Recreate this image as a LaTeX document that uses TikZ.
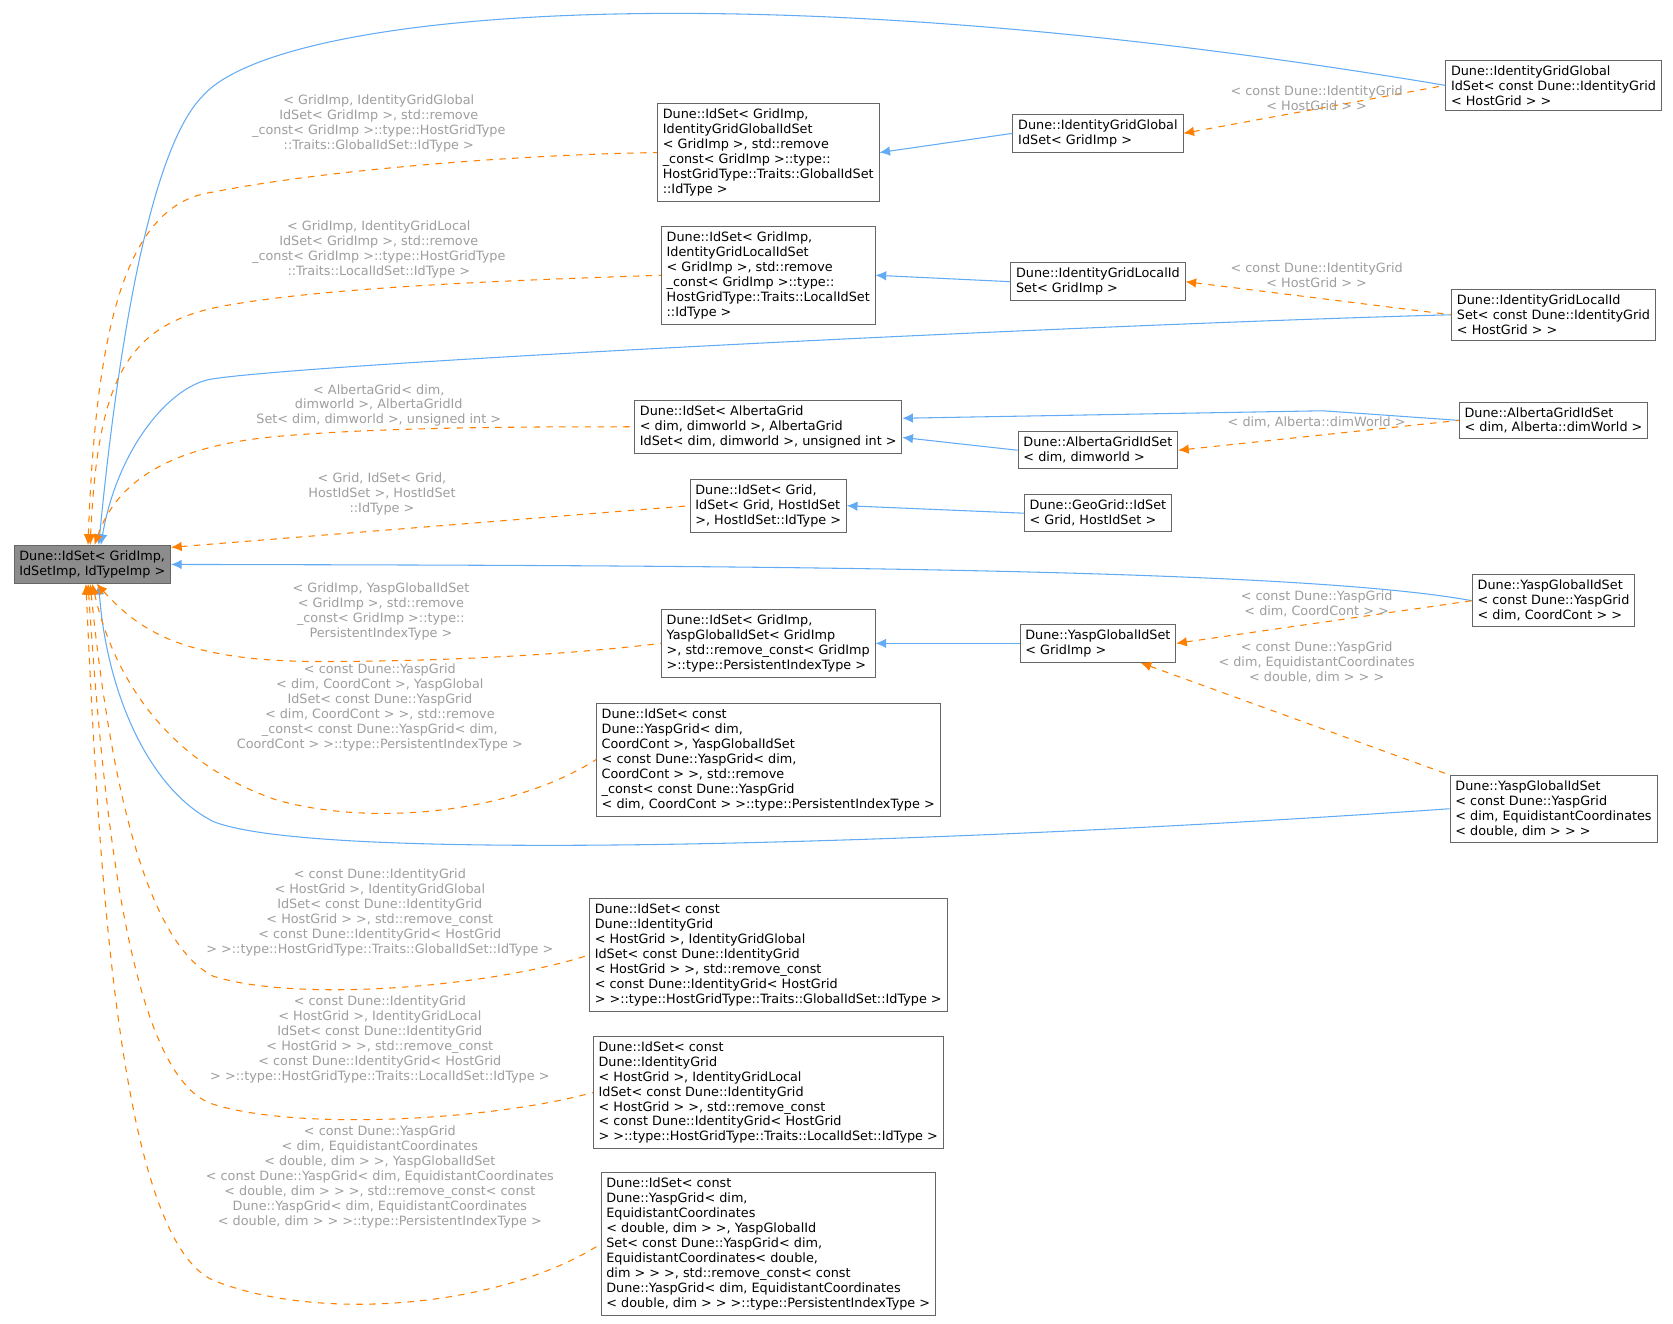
\documentclass[tikz,border=0pt]{standalone}
\usepackage{fontspec}
\setmainfont{DejaVu Sans}
\usetikzlibrary{arrows.meta}
\begin{document}
\begin{tikzpicture}[x=0.5pt,y=-0.5pt,
 box/.style={draw=black!60,fill=white,font=\fontsize{6}{7}\selectfont,align=left,inner sep=2.5pt},
 lab/.style={font=\fontsize{6}{7}\selectfont,text=black!38,align=center},
 inh/.style={draw={rgb,255:red,99;green,172;blue,245},line width=0.5pt,{Latex[length=5pt,width=4.5pt]}-},
 tpl/.style={draw=orange,dashed,line width=0.5pt,{Latex[length=5pt,width=4.5pt]}-}]
\useasboundingbox (0,0) rectangle (1568,1240);
\node[box,fill=black!45] (base) at (86.5,529) {Dune::IdSet< GridImp,\\ IdSetImp, IdTypeImp >};
\node[box] (n1) at (720,143) {Dune::IdSet< GridImp,\\ IdentityGridGlobalIdSet\\< GridImp >, std::remove\\\_const< GridImp >::type::\\HostGridType::Traits::GlobalIdSet\\::IdType >};
\node[box] (n2) at (720,258) {Dune::IdSet< GridImp,\\ IdentityGridLocalIdSet\\< GridImp >, std::remove\\\_const< GridImp >::type::\\HostGridType::Traits::LocalIdSet\\::IdType >};
\node[box] (n3) at (720,400) {Dune::IdSet< AlbertaGrid\\< dim, dimworld >, AlbertaGrid\\IdSet< dim, dimworld >, unsigned int >};
\node[box] (n4) at (720,474) {Dune::IdSet< Grid,\\ IdSet< Grid, HostIdSet\\>, HostIdSet::IdType >};
\node[box] (n5) at (720,603) {Dune::IdSet< GridImp,\\ YaspGlobalIdSet< GridImp\\>, std::remove\_const< GridImp\\>::type::PersistentIndexType >};
\node[box] (n6) at (720,712) {Dune::IdSet< const\\ Dune::YaspGrid< dim,\\ CoordCont >, YaspGlobalIdSet\\< const Dune::YaspGrid< dim,\\ CoordCont > >, std::remove\\\_const< const Dune::YaspGrid\\< dim, CoordCont > >::type::PersistentIndexType >};
\node[box] (n7) at (720,895) {Dune::IdSet< const\\ Dune::IdentityGrid\\< HostGrid >, IdentityGridGlobal\\IdSet< const Dune::IdentityGrid\\< HostGrid > >, std::remove\_const\\< const Dune::IdentityGrid< HostGrid\\ > >::type::HostGridType::Traits::GlobalIdSet::IdType >};
\node[box] (n8) at (720,1024) {Dune::IdSet< const\\ Dune::IdentityGrid\\< HostGrid >, IdentityGridLocal\\IdSet< const Dune::IdentityGrid\\< HostGrid > >, std::remove\_const\\< const Dune::IdentityGrid< HostGrid\\ > >::type::HostGridType::Traits::LocalIdSet::IdType >};
\node[box] (n9) at (720,1166) {Dune::IdSet< const\\ Dune::YaspGrid< dim,\\ EquidistantCoordinates\\< double, dim > >, YaspGlobalId\\Set< const Dune::YaspGrid< dim,\\ EquidistantCoordinates< double,\\ dim > > >, std::remove\_const< const\\ Dune::YaspGrid< dim, EquidistantCoordinates\\< double, dim > > >::type::PersistentIndexType >};
\node[box] (m1) at (1029,125) {Dune::IdentityGridGlobal\\IdSet< GridImp >};
\node[box] (m2) at (1029,264) {Dune::IdentityGridLocalId\\Set< GridImp >};
\node[box] (m3) at (1029,422) {Dune::AlbertaGridIdSet\\< dim, dimworld >};
\node[box] (m4) at (1029,481) {Dune::GeoGrid::IdSet\\< Grid, HostIdSet >};
\node[box] (m5) at (1029,603) {Dune::YaspGlobalIdSet\\< GridImp >};
\node[box] (r1) at (1456,80) {Dune::IdentityGridGlobal\\IdSet< const Dune::IdentityGrid\\< HostGrid > >};
\node[box] (r2) at (1456,295) {Dune::IdentityGridLocalId\\Set< const Dune::IdentityGrid\\< HostGrid > >};
\node[box] (r3) at (1456,394) {Dune::AlbertaGridIdSet\\< dim, Alberta::dimWorld >};
\node[box] (r4) at (1456,563) {Dune::YaspGlobalIdSet\\< const Dune::YaspGrid\\< dim, CoordCont > >};
\node[box] (r5) at (1456,758) {Dune::YaspGlobalIdSet\\< const Dune::YaspGrid\\< dim, EquidistantCoordinates\\< double, dim > > >};
% inheritance
\draw[inh] (n1.east) -- (m1.west);
\draw[inh] (n2.east) -- (m2.west);
\draw[inh] (n3.east) ++(0,-8) -- (1240,385) -- (r3.west);
\draw[inh] (n3.east) ++(0,10) -- (m3.west);
\draw[inh] (n4.east) -- (m4.west);
\draw[inh] (n5.east) -- (m5.west);
\draw[inh] (base.north)++(6,0) .. controls (110,330) and (140,140) .. (190,90) .. controls (260,10) and (700,-30) .. (r1.west);
\draw[inh] (base.north)++(8,0) .. controls (110,420) and (160,360) .. (200,355) .. controls (300,340) and (1000,305) .. (r2.west);
\draw[inh] (base.east)++(0,0) .. controls (600,530) and (1200,530) .. (r4.west);
\draw[inh] (base.south)++(6,0) .. controls (100,650) and (140,740) .. (200,770) .. controls (300,810) and (900,790) .. (r5.west);
% template
\draw[tpl] (m1.east) -- (r1.west);
\draw[tpl] (m2.east) -- (r2.west);
\draw[tpl] (m3.east) -- (r3.west);
\draw[tpl] (m5.east) -- (r4.west);
\draw[tpl] (m5.south)++(40,0) -- (r5.north west);
\draw[tpl] (base.north)++(-4,0) .. controls (90,300) and (120,190) .. (200,180) .. controls (300,160) and (480,145) .. (n1.west);
\draw[tpl] (base.north)++(-2,0) .. controls (92,350) and (120,300) .. (220,285) .. controls (320,268) and (500,262) .. (n2.west);
\draw[tpl] (base.north)++(2,0) .. controls (110,450) and (160,420) .. (250,410) .. controls (350,400) and (500,400) .. (n3.west);
\draw[tpl] (base.east)++(0,-16) -- (n4.west);
\draw[tpl] (base.south)++(4,0) .. controls (130,590) and (170,620) .. (300,620) .. controls (400,620) and (520,615) .. (n5.west);
\draw[tpl] (base.south)++(0,0) .. controls (110,650) and (170,720) .. (260,750) .. controls (350,775) and (480,762) .. (n6.west);
\draw[tpl] (base.south)++(-2,0) .. controls (100,700) and (130,880) .. (200,915) .. controls (280,940) and (460,925) .. (n7.west);
\draw[tpl] (base.south)++(-4,0) .. controls (96,750) and (120,1010) .. (200,1035) .. controls (280,1060) and (460,1050) .. (n8.west);
\draw[tpl] (base.south)++(-6,0) .. controls (92,800) and (110,1160) .. (200,1200) .. controls (300,1240) and (470,1225) .. (n9.west);
% labels
\node[lab] at (355,116) {< GridImp, IdentityGridGlobal\\IdSet< GridImp >, std::remove\\\_const< GridImp >::type::HostGridType\\::Traits::GlobalIdSet::IdType >};
\node[lab] at (355,234) {< GridImp, IdentityGridLocal\\IdSet< GridImp >, std::remove\\\_const< GridImp >::type::HostGridType\\::Traits::LocalIdSet::IdType >};
\node[lab] at (355,380) {< AlbertaGrid< dim,\\dimworld >, AlbertaGridId\\Set< dim, dimworld >, unsigned int >};
\node[lab] at (358,463) {< Grid, IdSet< Grid,\\HostIdSet >, HostIdSet\\::IdType >};
\node[lab] at (357,573) {< GridImp, YaspGlobalIdSet\\< GridImp >, std::remove\\\_const< GridImp >::type::\\PersistentIndexType >};
\node[lab] at (356,663) {< const Dune::YaspGrid\\< dim, CoordCont >, YaspGlobal\\IdSet< const Dune::YaspGrid\\< dim, CoordCont > >, std::remove\\\_const< const Dune::YaspGrid< dim,\\ CoordCont > >::type::PersistentIndexType >};
\node[lab] at (356,855) {< const Dune::IdentityGrid\\< HostGrid >, IdentityGridGlobal\\IdSet< const Dune::IdentityGrid\\< HostGrid > >, std::remove\_const\\< const Dune::IdentityGrid< HostGrid\\ > >::type::HostGridType::Traits::GlobalIdSet::IdType >};
\node[lab] at (356,974) {< const Dune::IdentityGrid\\< HostGrid >, IdentityGridLocal\\IdSet< const Dune::IdentityGrid\\< HostGrid > >, std::remove\_const\\< const Dune::IdentityGrid< HostGrid\\ > >::type::HostGridType::Traits::LocalIdSet::IdType >};
\node[lab] at (356,1103) {< const Dune::YaspGrid\\< dim, EquidistantCoordinates\\< double, dim > >, YaspGlobalIdSet\\< const Dune::YaspGrid< dim, EquidistantCoordinates\\< double, dim > > >, std::remove\_const< const\\ Dune::YaspGrid< dim, EquidistantCoordinates\\ < double, dim > > >::type::PersistentIndexType >};
\node[lab] at (1234,92) {< const Dune::IdentityGrid\\< HostGrid > >};
\node[lab] at (1234,258) {< const Dune::IdentityGrid\\< HostGrid > >};
\node[lab] at (1234,396) {< dim, Alberta::dimWorld >};
\node[lab] at (1234,566) {< const Dune::YaspGrid\\< dim, CoordCont > >};
\node[lab] at (1234,621) {< const Dune::YaspGrid\\< dim, EquidistantCoordinates\\< double, dim > > >};
\end{tikzpicture}
\end{document}
